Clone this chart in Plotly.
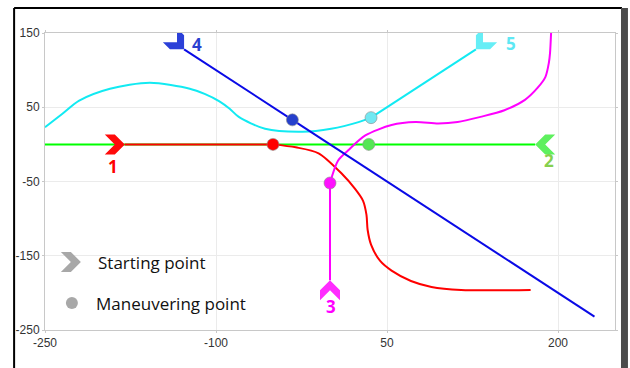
import math
import plotly.graph_objects as go

# ---------------- data ----------------
# each path: start point (chevron), straight run to the maneuvering point, then the curved part
red_x = [-180, -50, -30, -10, 10, 22, 29, 32, 33, 36, 44, 54, 71, 89, 115, 176]
red_y = [0, 0, -4, -12, -39, -60, -76, -95, -115, -135, -157, -170, -184, -192, -196, -196]

green_x = [180, 34, -250]
green_y = [0, 0, 0]

magenta_x = [0, 0, 7, 16, 31, 54, 75, 95, 112, 132, 153, 171, 182, 189, 192, 193, 194]
magenta_y = [-183, -52, -22, -8, 12, 26, 30, 28, 30, 37, 46, 60, 76, 91, 110, 123, 152]

blue_x = [-128, -33, 232]
blue_y = [128, 33, -232]

cyan_x = [128, 36, 25, 1, -24, -57, -80, -88, -97, -110, -123, -158, -193, -220, -235, -250]
cyan_y = [128, 36, 30, 21, 17, 21, 37, 48, 58, 68, 75, 83, 75, 59, 41, 23]

labels = ["1", "2", "3", "4", "5"]
# index of the maneuvering point in each path
maneuver_idx = {"1": 1, "2": 1, "3": 1, "4": 1, "5": 1}

x_ticks = [-250, -100, 50, 200]
y_ticks = [150, 50, -50, -150, -250]

# ---------------- styles ----------------
W, H = 630, 368
ML, MR, MT, MB = 45, 13, 33, 38

series = {
    "1": dict(x=red_x, y=red_y, line="#ff0000", chev="#ff0a0a", dot="#ff0000", text="#ff0000", ang=0),
    "2": dict(x=green_x, y=green_y, line="#00ff00", chev="#5ef05e", dot="#55e655", text="#86d04e", ang=180),
    "3": dict(x=magenta_x, y=magenta_y, line="#ff00ff", chev="#ff2cff", dot="#ff10ff", text="#ff00ff", ang=90),
    "4": dict(x=blue_x, y=blue_y, line="#0a0ae6", chev="#2b40d8", dot="#2640cc", text="#2a3fd0", ang=-45),
    "5": dict(x=cyan_x, y=cyan_y, line="#12eaf2", chev="#66eef6", dot="#72e8f2", text="#5ee8f4", ang=-135),
}
label_pos = {"1": (-190, -30), "2": (192, -22), "3": (1, -219), "4": (-117, 134), "5": (159, 136)}


def chevron_path(ang_deg, s=10):
    base = [(0, 0), (-s, s), (-2 * s, s), (-s, 0), (-2 * s, -s), (-s, -s)]
    a = math.radians(ang_deg)
    ca, sa = math.cos(a), math.sin(a)
    pts = [(x * ca - y * sa, x * sa + y * ca) for x, y in base]
    return "M " + " L ".join(f"{x:.2f},{y:.2f}" for x, y in pts) + " Z"


fig = go.Figure()
order = ["2", "1", "5", "3", "4"]
for k in order:
    s = series[k]
    m = maneuver_idx[k]
    # straight run from the start to the maneuvering point
    fig.add_trace(go.Scatter(x=s["x"][:m + 1], y=s["y"][:m + 1], mode="lines",
                             line=dict(color=s["line"], width=2),
                             hoverinfo="skip", showlegend=False))
    # maneuver path
    fig.add_trace(go.Scatter(x=s["x"][m:], y=s["y"][m:], mode="lines",
                             line=dict(color=s["line"], width=2, shape="spline", smoothing=0.8),
                             hoverinfo="skip", showlegend=False))
for k in order:
    s = series[k]
    m = maneuver_idx[k]
    fig.add_trace(go.Scatter(x=[s["x"][m]], y=[s["y"][m]], mode="markers",
                             marker=dict(color=s["dot"], size=12,
                                         line=dict(color="rgba(140,140,140,0.6)", width=1)),
                             hoverinfo="skip", showlegend=False))

shapes = []
annotations = []
for k in labels:
    s = series[k]
    shapes.append(dict(type="path", xref="x", yref="y", xsizemode="pixel", ysizemode="pixel",
                       xanchor=s["x"][0], yanchor=s["y"][0], path=chevron_path(s["ang"]),
                       fillcolor=s["chev"], line=dict(width=0), layer="above"))
    lx, ly = label_pos[k]
    annotations.append(dict(x=lx, y=ly, xref="x", yref="y", text=f"<b>{k}</b>", showarrow=False,
                            font=dict(family="Open Sans", size=17, color=s["text"])))


def px2paper(px, py):
    return (px - ML) / (W - ML - MR), (H - MB - py) / (H - MT - MB)


# legend (drawn manually)
cx, cy = px2paper(81, 262)
shapes.append(dict(type="path", xref="paper", yref="paper", xsizemode="pixel", ysizemode="pixel",
                   xanchor=cx, yanchor=cy, path=chevron_path(0), fillcolor="#a8a8a8", line=dict(width=0)))
dx, dy = px2paper(72, 303)
shapes.append(dict(type="circle", xref="paper", yref="paper", xsizemode="pixel", ysizemode="pixel",
                   xanchor=dx, yanchor=dy, x0=-6, x1=6, y0=-6, y1=6, fillcolor="#a8a8a8", line=dict(width=0)))
tx, ty = px2paper(96, 262)
annotations.append(dict(x=tx, y=ty, xref="paper", yref="paper", xanchor="left", yanchor="middle",
                        text="Starting point", showarrow=False,
                        font=dict(family="Open Sans", size=17, color="#111111")))
tx, ty = px2paper(94, 303)
annotations.append(dict(x=tx, y=ty, xref="paper", yref="paper", xanchor="left", yanchor="middle",
                        text="Maneuvering point", showarrow=False,
                        font=dict(family="Open Sans", size=17, color="#111111")))

# outer frame
x0, y0 = px2paper(14, 8)
x1, _ = px2paper(624, 8)
_, yb = px2paper(14, 368)
shapes.append(dict(type="line", xref="paper", yref="paper", x0=x0, x1=x1, y0=y0, y1=y0,
                   line=dict(color="#000000", width=2)))
shapes.append(dict(type="line", xref="paper", yref="paper", x0=x0, x1=x0, y0=y0, y1=yb,
                   line=dict(color="#000000", width=2)))
rx0, _ = px2paper(623, 8)
rx1, _ = px2paper(630, 8)
shapes.append(dict(type="rect", xref="paper", yref="paper", x0=rx0, x1=rx1, y0=yb, y1=y0,
                   fillcolor="#4a4a4a", line=dict(width=0)))

axis_common = dict(showgrid=True, gridcolor="#ebebeb", gridwidth=1, zeroline=False,
                   showline=True, linecolor="#c8c8c8", linewidth=1, mirror="ticks",
                   ticks="outside", ticklen=2, tickcolor="#c8c8c8",
                   tickfont=dict(family="Liberation Sans, Arial", size=12, color="#333333"))

fig.update_layout(
    width=W, height=H,
    margin=dict(l=ML, r=MR, t=MT, b=MB),
    paper_bgcolor="white", plot_bgcolor="white",
    xaxis=dict(range=[-250, 250], tickvals=x_ticks, ticktext=[str(v) for v in x_ticks], **axis_common),
    yaxis=dict(range=[-250, 150], tickvals=y_ticks, ticktext=[str(v) for v in y_ticks], **axis_common),
    shapes=shapes, annotations=annotations, showlegend=False,
)

fig.write_html("out.html", config={"displayModeBar": False},
               post_script="document.body.style.margin='0';document.body.style.padding='0';")
